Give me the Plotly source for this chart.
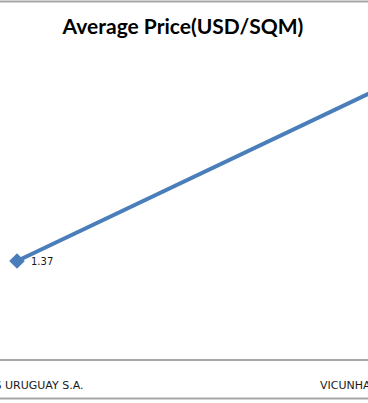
import plotly.graph_objects as go

categories = ["TEXTILES URUGUAY S.A.", "VICUNHA TEXTIL S.A."]
avg_price = [1.37, 3.77]
labelled_points = [0]
title_text = "Average Price(USD/SQM)"

fig = go.Figure()
fig.add_trace(go.Scatter(
    x=categories, y=avg_price,
    mode="lines+markers",
    line=dict(color="#4A7EBB", width=4),
    marker=dict(symbol="diamond", size=12, color="#4A7EBB"),
    cliponaxis=False,
    hoverinfo="skip",
))

# data label(s)
for i in labelled_points:
    fig.add_annotation(x=categories[i], y=avg_price[i], xref="x", yref="y",
                       text=f"{avg_price[i]:.2f}", showarrow=False,
                       xanchor="left", yanchor="middle", xshift=12,
                       font=dict(family="DejaVu Sans", size=10, color="#1a1a1a"))

# The chart is wider than the visible window: the right part is cropped like the reference.
FIG_W = 420
fig.update_layout(
    width=FIG_W, height=403,
    margin=dict(l=0, r=0, t=60, b=44, autoexpand=False),
    paper_bgcolor="white", plot_bgcolor="white",
    showlegend=False,
    title=dict(text=title_text, x=183 / FIG_W, xanchor="center", xref="container",
               y=1 - 27 / 403, yanchor="middle", yref="container", automargin=False,
               font=dict(family="Lato", size=21, color="black", weight="bold")),
    xaxis=dict(type="category", range=[-0.04709, -0.04709 + FIG_W / 361], showgrid=False,
               zeroline=False, showline=True, linecolor="#a6a6a6", linewidth=2, ticks="",
               ticklabelstandoff=15, automargin=False,
               tickfont=dict(family="DejaVu Sans", size=11, color="#1a1a1a")),
    yaxis=dict(range=[0, 4.18], visible=False, automargin=False),
    shapes=[
        dict(type="line", xref="paper", yref="paper", x0=-0.1, x1=1.1, y0=1.1957, y1=1.1957,
             line=dict(color="#a6a6a6", width=2)),
        dict(type="line", xref="paper", yref="paper", x0=-0.1, x1=1.1, y0=-0.1321, y1=-0.1321,
             line=dict(color="#a6a6a6", width=2)),
    ],
)

fig.write_html("out.html", config={"displayModeBar": False, "staticPlot": True},
               post_script="document.body.style.margin='0';document.body.style.overflow='hidden';")
